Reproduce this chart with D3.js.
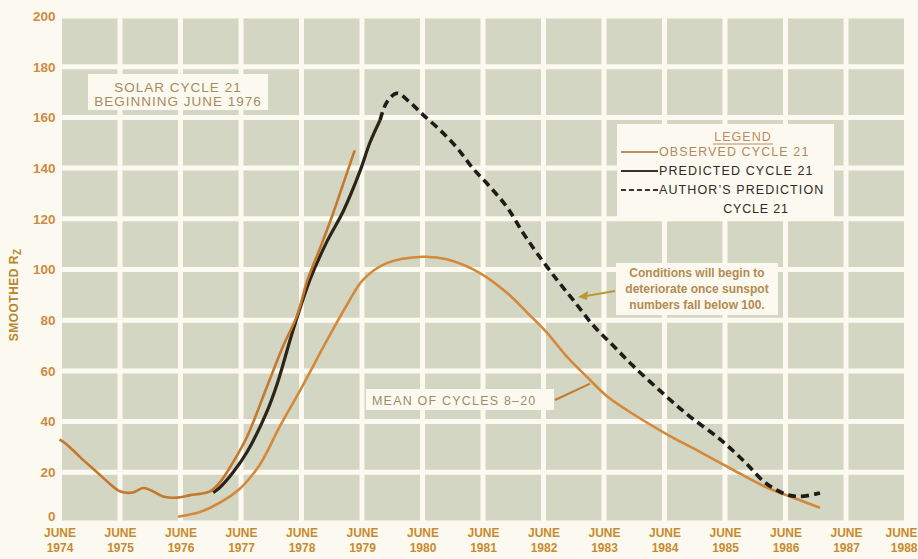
<!DOCTYPE html>
<html>
<head>
<meta charset="utf-8">
<script src="https://cdn.jsdelivr.net/npm/d3@7"></script>
<style>
  body { margin: 0; background: #fcfaf0; }
  svg { display: block; font-family: "Liberation Sans", Arial, sans-serif; }
</style>
</head>
<body>
<div id="chart"></div>
<script>
// tick values (June of each year, as decimal years)
const yearTicks = d3.range(1974, 1989)
const rTicks = d3.range(0, 201, 20)

// observed cycle 21 (smoothed Rz)
const obsYears = [1974.5, 1974.62, 1974.84, 1975.12, 1975.33, 1975.5, 1975.71, 1975.88, 1976.0, 1976.21, 1976.44, 1976.66, 1976.82, 1976.99, 1977.15, 1977.37, 1977.6, 1977.9, 1978.2, 1978.43, 1978.6, 1978.8, 1979.02, 1979.25, 1979.38]
const obsValues = [33, 31, 26, 20, 15.5, 12.5, 12, 13.8, 13, 10.5, 10, 11, 11.5, 12.5, 16, 24, 34, 52, 70, 82, 96, 108, 122, 138, 147]

// predicted cycle 21 (solid black)
const predYears = [1977.04, 1977.15, 1977.37, 1977.6, 1977.93, 1978.1, 1978.36, 1978.64, 1978.92, 1979.19, 1979.47, 1979.63, 1979.8]
const predValues = [12, 14, 20, 28, 44, 55, 76, 96, 111, 123, 139, 150, 159]

// author's prediction (dashed)
const authYears = [1979.8, 1979.91, 1980.08, 1980.29, 1980.51, 1980.79, 1981.07, 1981.33, 1981.62, 1981.9, 1982.16, 1982.39, 1982.72, 1982.99, 1983.32, 1983.65, 1983.98, 1984.48, 1984.92, 1985.42, 1985.83, 1986.16, 1986.49, 1986.74, 1987.07]
const authValues = [159, 166, 169.5, 166, 161, 155, 148, 140, 132.5, 124.5, 114.5, 106.5, 96, 88, 78, 70, 62, 51, 42, 33, 24, 16, 11.5, 10.5, 11.8]

// mean of cycles 8-20
const meanYears = [1976.46, 1976.82, 1977.15, 1977.48, 1977.81, 1978.14, 1978.47, 1978.92, 1979.25, 1979.52, 1979.91, 1980.51, 1980.9, 1981.45, 1981.9, 1982.23, 1982.56, 1982.89, 1983.22, 1983.55, 1983.98, 1984.54, 1985.09, 1985.63, 1986.19, 1986.74, 1987.07]
const meanValues = [2.5, 4.3, 8, 13.5, 23, 38, 52, 72, 86, 96, 102.5, 105, 104, 98.6, 90.7, 83, 75, 65.5, 57.6, 50, 43, 35, 28, 21, 14, 9, 6]

const W = 918, H = 559
const svg = d3.select('#chart').append('svg').attr('width', W).attr('height', H)
svg.append('rect').attr('width', W).attr('height', H).attr('fill', '#fcfaf0')

const x = d3.scaleLinear().domain([1974.5, 1988.5]).range([59.5, 906.5])
const y = d3.scaleLinear().domain([0, 200]).range([523, 16])

// plot background cells + white grid
const plot = svg.append('g')
plot.append('rect')
  .attr('x', x(1974.5)).attr('y', y(200))
  .attr('width', x(1988.5) - x(1974.5)).attr('height', y(0) - y(200))
  .attr('fill', '#d4d6c4')
plot.selectAll('line.v').data(yearTicks).join('line').classed('v', true)
  .attr('x1', d => x(d + 0.5)).attr('x2', d => x(d + 0.5))
  .attr('y1', y(200) - 3).attr('y2', y(0) + 3)
  .attr('stroke', '#fcfaf0').attr('stroke-width', 5)
plot.selectAll('line.h').data(rTicks).join('line').classed('h', true)
  .attr('x1', x(1974.5) - 3).attr('x2', x(1988.5) + 3)
  .attr('y1', d => y(d)).attr('y2', d => y(d))
  .attr('stroke', '#fcfaf0').attr('stroke-width', 5)

// y axis labels
const yAxis = svg.append('g').attr('transform', `translate(${x(1974.5) - 4},0)`)
  .call(d3.axisLeft(y).tickValues(rTicks).tickSize(0).tickPadding(0))
yAxis.select('.domain').remove()
yAxis.selectAll('text')
  .attr('font-size', 13.5).attr('font-weight', 'bold').attr('fill', '#cf8a42')
  .attr('font-family', '"Liberation Sans", Arial, sans-serif')
  .attr('dy', (d) => d === 0 ? '-0.2em' : '0.32em')

// x axis labels (two lines)
const xAxis = svg.append('g').attr('transform', `translate(0,${y(0)})`)
  .call(d3.axisBottom(x).tickValues(yearTicks.map(d => d + 0.5)).tickSize(0).tickFormat(''))
xAxis.select('.domain').remove()
xAxis.selectAll('.tick').each(function (d) {
  const last = d > 1988
  const t = d3.select(this).select('text')
    .attr('font-size', 12).attr('font-weight', 'bold').attr('fill', '#c98a2e')
    .attr('font-family', '"Liberation Sans", Arial, sans-serif')
    .attr('y', 0).attr('dy', null)
    .attr('text-anchor', last ? 'end' : 'middle')
  const tx = last ? W - 1 - x(d) : 0
  t.append('tspan').attr('x', tx).attr('y', 14).text('JUNE')
  t.append('tspan').attr('x', tx).attr('y', 29).text(Math.floor(d))
})

// y axis title
const yt = svg.append('text')
  .attr('transform', `translate(18,${(y(90))}) rotate(-90)`)
  .attr('text-anchor', 'middle').attr('font-size', 12).attr('font-weight', 'bold')
  .attr('fill', '#b8862a').attr('letter-spacing', 0.5)
yt.append('tspan').text('SMOOTHED R')
yt.append('tspan').attr('font-size', 10).attr('dy', 3).text('Z')

// curves
const line = d3.line().x(d => x(d[0])).y(d => y(d[1])).curve(d3.curveCatmullRom.alpha(0.5))
const zip = (a, b) => a.map((v, i) => [v, b[i]])

svg.append('path').datum(zip(meanYears, meanValues)).attr('d', line)
  .attr('fill', 'none').attr('stroke', '#d4883a').attr('stroke-width', 2.6)
svg.append('path').datum(zip(predYears, predValues)).attr('d', line)
  .attr('fill', 'none').attr('stroke', '#2c2418').attr('stroke-width', 3.2)
svg.append('path').datum(zip(obsYears, obsValues)).attr('d', line)
  .attr('fill', 'none').attr('stroke', '#c6772e').attr('stroke-width', 2.6)
svg.append('path').datum(zip(authYears, authValues)).attr('d', line)
  .attr('fill', 'none').attr('stroke', '#1e1c18').attr('stroke-width', 3.6)
  .attr('stroke-dasharray', '8,5')

// annotation boxes
function box (bx, by, bw, bh) {
  svg.append('rect').attr('x', bx).attr('y', by).attr('width', bw).attr('height', bh).attr('fill', '#fcfaf0')
}

box(88, 74, 180, 36)
svg.append('text').attr('x', 178).attr('y', 92).attr('text-anchor', 'middle')
  .attr('font-size', 13.5).attr('fill', '#a88a5c').attr('letter-spacing', 1).text('SOLAR CYCLE 21')
svg.append('text').attr('x', 178).attr('y', 106).attr('text-anchor', 'middle')
  .attr('font-size', 13.5).attr('fill', '#a88a5c').attr('letter-spacing', 1).text('BEGINNING JUNE 1976')

// mean label + leader
box(366, 389, 188, 21)
svg.append('text').attr('x', 372).attr('y', 405)
  .attr('font-size', 12.5).attr('fill', '#a08a6a').attr('letter-spacing', 1.2).text('MEAN OF CYCLES 8–20')
svg.append('line').attr('x1', 555).attr('y1', 400).attr('x2', x(1983.27)).attr('y2', y(55))
  .attr('stroke', '#c47a2a').attr('stroke-width', 2)

// legend
box(617, 124, 217, 96)
svg.append('text').attr('x', 743).attr('y', 141).attr('text-anchor', 'middle')
  .attr('font-size', 12.5).attr('fill', '#c08a60').attr('letter-spacing', 1).text('LEGEND')
svg.append('line').attr('x1', 713).attr('x2', 773).attr('y1', 144).attr('y2', 144)
  .attr('stroke', '#c08a60').attr('stroke-width', 1)
const legendRows = [
  { label: 'OBSERVED CYCLE 21', stroke: '#b89060', text: '#b08a5a', dash: null, y: 156 },
  { label: 'PREDICTED CYCLE 21', stroke: '#3a3428', text: '#2e2a24', dash: null, y: 175 },
  { label: 'AUTHOR\u2019S PREDICTION', stroke: '#3a3428', text: '#2e2a24', dash: '5,3', y: 194 }
]
legendRows.forEach(r => {
  svg.append('line').attr('x1', 621).attr('x2', 658).attr('y1', r.y - 4).attr('y2', r.y - 4)
    .attr('stroke', r.stroke).attr('stroke-width', 2.2).attr('stroke-dasharray', r.dash)
  svg.append('text').attr('x', 659).attr('y', r.y).attr('font-size', 12.5)
    .attr('fill', r.text).attr('letter-spacing', 1.1).text(r.label)
})
svg.append('text').attr('x', 756).attr('y', 213).attr('text-anchor', 'middle')
  .attr('font-size', 12.5).attr('fill', '#2e2a24').attr('letter-spacing', 0.8).text('CYCLE 21')

// conditions note + arrow
box(616, 263, 162, 52)
const note = ['Conditions will begin to', 'deteriorate once sunspot', 'numbers fall below 100.']
svg.selectAll('text.note').data(note).join('text').classed('note', true)
  .attr('x', 697).attr('y', (d, i) => 277 + i * 16).attr('text-anchor', 'middle')
  .attr('font-size', 12).attr('font-weight', 'bold').attr('fill', '#b48a50').text(d => d)
svg.append('line').attr('x1', 615).attr('y1', 291).attr('x2', 586).attr('y2', 296)
  .attr('stroke', '#b89a30').attr('stroke-width', 2)
svg.append('path').attr('d', 'M578,297 L588,291 L587,300 Z').attr('fill', '#b89a30')
</script>
</body>
</html>
